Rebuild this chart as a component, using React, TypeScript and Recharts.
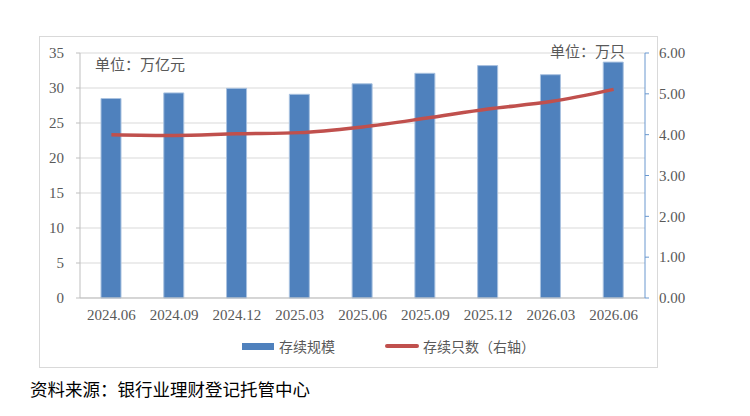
import React from 'react';
import {
  ComposedChart, Bar, Line, XAxis, YAxis, CartesianGrid,
} from 'recharts';

// 存续规模（万亿元）与存续只数（万只）
const periods = ['2024.06', '2024.09', '2024.12', '2025.03', '2025.06', '2025.09', '2025.12', '2026.03', '2026.06'];
const scale = [28.5, 29.3, 29.95, 29.1, 30.6, 32.1, 33.2, 31.9, 33.7];
const count = [4.0, 3.98, 4.02, 4.05, 4.19, 4.4, 4.63, 4.81, 5.11];
const leftTicks = [0, 5, 10, 15, 20, 25, 30, 35];
const rightTicks = [0, 1, 2, 3, 4, 5, 6];

const data = periods.map((p, i) => ({ period: p, scale: scale[i], count: count[i] }));

const FONT = 'Liberation Serif, Times New Roman, DejaVu Serif, serif';
const CJK = 'Liberation Serif, Noto Sans CJK SC, serif';
const GREY = '#595959';
const BLUE = '#4F81BD';
const RED = '#C0504D';

const tickStyle = { fill: GREY, fontSize: 15, fontFamily: FONT, style: { fontFamily: FONT } };

export default function App() {
  return (
    <div style={{ position: 'absolute', left: 0, top: 0, width: 750, height: 416, background: '#fff', fontFamily: FONT }}>
      {/* chart frame */}
      <div style={{ position: 'absolute', left: 39, top: 36, width: 617, height: 330, border: '1px solid #d9d9d9' }} />

      <div style={{ position: 'absolute', left: 0, top: 0 }}>
        <ComposedChart
          width={750}
          height={416}
          data={data}
          margin={{ top: 53, right: 45, bottom: 88, left: 40 }}
        >
          <CartesianGrid yAxisId="left" vertical={false} stroke="#d9d9d9" />
          <XAxis
            dataKey="period"
            height={30}
            tickLine={false}
            tickSize={0}
            tickMargin={11}
            axisLine={{ stroke: '#bfbfbf' }}
            tick={tickStyle}
            interval={0}
          />
          <YAxis
            yAxisId="left"
            width={40}
            domain={[0, 35]}
            ticks={leftTicks}
            tickSize={4}
            tickMargin={12}
            axisLine={{ stroke: '#bfbfbf' }}
            tickLine={{ stroke: '#bfbfbf' }}
            tick={tickStyle}
          />
          <YAxis
            yAxisId="right"
            orientation="right"
            width={60}
            domain={[0, 6]}
            ticks={rightTicks}
            tickSize={4}
            tickMargin={10}
            tickFormatter={(v: number) => v.toFixed(2)}
            axisLine={{ stroke: '#6a98cf' }}
            tickLine={{ stroke: '#6a98cf' }}
            tick={{ ...tickStyle, textAnchor: 'start' }}
          />
          <Bar
            yAxisId="left"
            dataKey="scale"
            name="存续规模"
            barSize={20}
            fill={BLUE}
            stroke="#a9c2e0"
            strokeWidth={1}
            isAnimationActive={false}
          />
          <Line
            yAxisId="right"
            dataKey="count"
            name="存续只数（右轴）"
            type="monotone"
            stroke={RED}
            strokeWidth={3.5}
            dot={false}
            isAnimationActive={false}
          />
        </ComposedChart>
      </div>

      {/* legend */}
      <div style={{ position: 'absolute', left: 242, top: 336, display: 'flex', alignItems: 'center', fontFamily: CJK, fontSize: 14, color: GREY }}>
        <span style={{ display: 'inline-block', width: 32, height: 7, background: BLUE, marginRight: 5 }} />
        <span style={{ marginRight: 50 }}>存续规模</span>
        <span style={{ display: 'inline-block', width: 34, height: 4, background: RED, borderRadius: 2, marginRight: 4 }} />
        <span>存续只数（右轴）</span>
      </div>

      {/* unit labels */}
      <div style={{ position: 'absolute', left: 95, top: 53, fontFamily: CJK, fontSize: 15, color: GREY }}>单位：万亿元</div>
      <div style={{ position: 'absolute', left: 550, top: 40, fontFamily: CJK, fontSize: 15, color: GREY }}>单位：万只</div>

      {/* source */}
      <div style={{ position: 'absolute', left: 30, top: 376, fontFamily: CJK, fontSize: 17.5, color: '#000' }}>
        资料来源：银行业理财登记托管中心
      </div>
    </div>
  );
}
